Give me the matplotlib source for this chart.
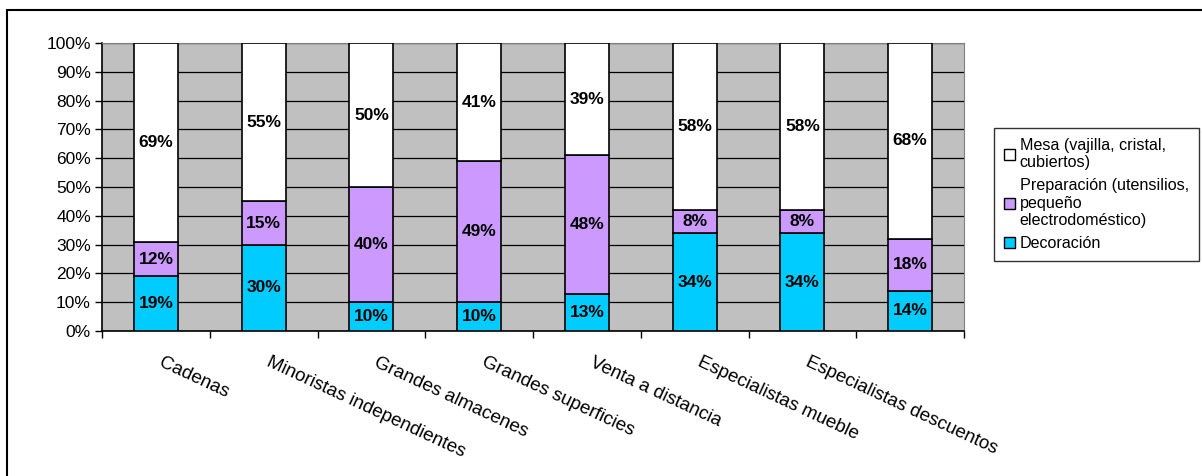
import matplotlib.pyplot as plt
from matplotlib.patches import Rectangle, Patch
import numpy as np

plt.rcParams['font.family'] = ['Liberation Sans', 'DejaVu Sans']

# Data (percent)
categories = ['Cadenas', 'Minoristas independientes', 'Grandes almacenes',
              'Grandes superficies', 'Venta a distancia', 'Especialistas mueble',
              'Especialistas descuentos', '']
decoracion = [19, 30, 10, 10, 13, 34, 34, 14]
preparacion = [12, 15, 40, 49, 48, 8, 8, 18]
mesa = [69, 55, 50, 41, 39, 58, 58, 68]
yticks = [0, 10, 20, 30, 40, 50, 60, 70, 80, 90, 100]

series_names = ['Decoración',
                'Preparación (utensilios,\npequeño\nelectrodoméstico)',
                'Mesa (vajilla, cristal,\ncubiertos)']
colors = ['#00CCFF', '#CC99FF', '#FFFFFF']

fig = plt.figure(figsize=(12.02, 4.76), dpi=100)
ax = fig.add_axes([102 / 1202, 1 - 331 / 476, (964 - 102) / 1202, (331 - 43) / 476])
ax.set_facecolor('#C0C0C0')

x = np.arange(len(categories))
bottom = np.zeros(len(categories))
for vals, col in zip([decoracion, preparacion, mesa], colors):
    vals = np.array(vals, dtype=float)
    ax.bar(x, vals, 0.41, bottom=bottom, color=col, edgecolor='black',
           linewidth=1.2, zorder=3)
    for xi, b, v in zip(x, bottom, vals):
        ax.text(xi, b + v / 2, f'{int(v)}%', ha='center', va='center',
                fontsize=12.5, fontweight='bold', zorder=4)
    bottom += vals

ax.set_xlim(-0.5, len(categories) - 0.5)
ax.set_ylim(0, 100)
ax.set_yticks(yticks)
ax.set_yticklabels([f'{t}%' for t in yticks], fontsize=12.5)
ax.yaxis.grid(True, color='black', linewidth=0.9, zorder=1)
ax.set_axisbelow(True)
ax.set_xticks(np.arange(len(categories) + 1) - 0.5)
ax.set_xticklabels([])
ax.tick_params(axis='both', direction='out', length=5, width=1, color='black', pad=3)
for s in ['top', 'right']:
    ax.spines[s].set_color('#808080')
for s in ['left', 'bottom']:
    ax.spines[s].set_color('black')
    ax.spines[s].set_linewidth(1.2)

# rotated category labels
trans = ax.get_xaxis_transform()
for xi, lab in zip(x, categories):
    ax.text(xi + 0.07, -0.08, lab, transform=trans, rotation=-25,
            rotation_mode='anchor', ha='left', va='top', fontsize=13.5)

handles = [Patch(facecolor=c, edgecolor='black', linewidth=1) for c in colors[::-1]]
leg = fig.legend(handles, series_names[::-1], loc='upper left',
                 bbox_to_anchor=(994 / 1202, 1 - 128 / 476), fontsize=11.6,
                 frameon=True, fancybox=False, handlelength=0.7, handleheight=0.7,
                 handletextpad=0.3, borderpad=0.6, labelspacing=0.5,
                 borderaxespad=0)
leg.get_frame().set_edgecolor('black')
leg.get_frame().set_linewidth(1)

# outer chart border
fig.add_artist(Rectangle((7 / 1202, -0.1), 2, 1 - 10 / 476 + 0.1,
                         transform=fig.transFigure, fill=False,
                         edgecolor='black', linewidth=1.5))

fig.savefig('out.png', dpi=100)
